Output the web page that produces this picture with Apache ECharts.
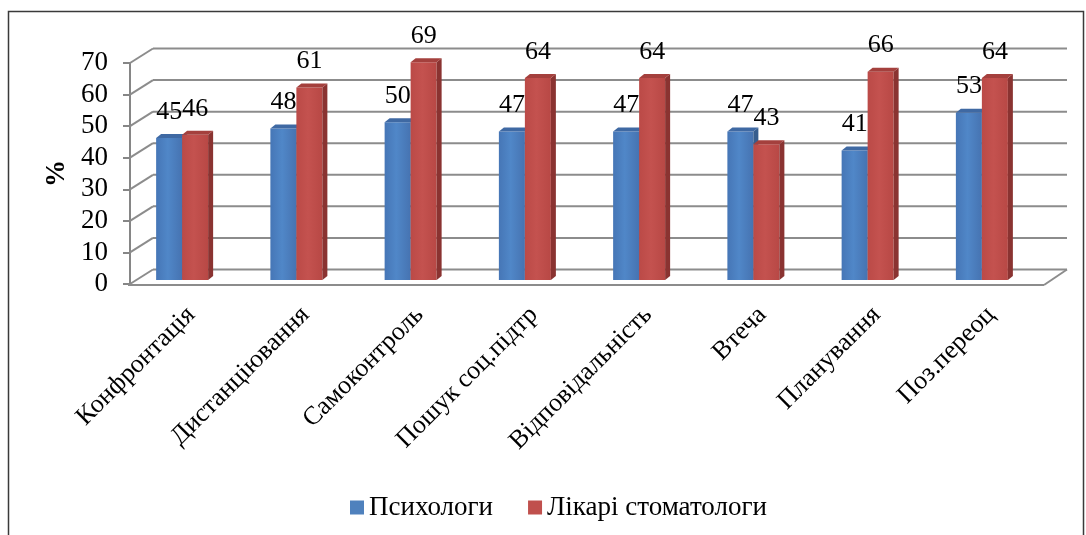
<!DOCTYPE html>
<html>
<head>
<meta charset="utf-8">
<script src="https://cdn.jsdelivr.net/npm/echarts@6/dist/echarts.min.js"></script>
<style>
  html, body { margin: 0; padding: 0; background: #ffffff; }
  #chart { width: 1086px; height: 535px; }
</style>
</head>
<body>
<div id="chart"></div>
<script>
// Coping strategies: share (%) of psychologists vs dentists
const categories = ['Конфронтація', 'Дистанціювання', 'Самоконтроль', 'Пошук соц.підтр',
                    'Відповідальність', 'Втеча', 'Планування', 'Поз.переоц'];
const psychologists = [45, 48, 50, 47, 47, 47, 41, 53];
const dentists = [46, 61, 69, 64, 64, 43, 66, 64];
const yTicks = [0, 10, 20, 30, 40, 50, 60, 70];

const SERIF = "'Liberation Serif', 'Times New Roman', serif";

// pseudo-3D geometry (pixels)
const DEPTH_X = 23, DEPTH_Y = -14.5;      // floor / wall depth
const FRONT_SHIFT = -4;                    // front edge relative to grid
const BAR_SHIFT_X = -9, BAR_SHIFT_Y = -4;  // bar row inside the box
const BAR_W = 26, BAR_DX = 5, BAR_DY = -4; // bar width and bar depth

const WALL = '#8c8c8c';

const chart = echarts.init(document.getElementById('chart'));

function wallItem(params, api) {
  const v = api.value(1);
  const band = api.size([1, 0])[0];
  const first = api.coord([0, v]);
  const last = api.coord([categories.length - 1, v]);
  const xl = first[0] - band / 2 + FRONT_SHIFT;
  const xr = last[0] + band / 2 + FRONT_SHIFT;
  const y = first[1];
  const lineStyle = { stroke: WALL, lineWidth: 2 };
  const children = [
    // back wall gridline
    { type: 'line', shape: { x1: xl + DEPTH_X, y1: y + DEPTH_Y, x2: xr + DEPTH_X, y2: y + DEPTH_Y }, style: lineStyle },
    // side wall diagonal
    { type: 'line', shape: { x1: xl, y1: y, x2: xl + DEPTH_X, y2: y + DEPTH_Y }, style: lineStyle }
  ];
  if (v === 0) {
    children.push(
      { type: 'line', shape: { x1: xl - 2, y1: y + 1, x2: xr, y2: y + 1 }, style: lineStyle },
      { type: 'line', shape: { x1: xr, y1: y + 1, x2: xr + DEPTH_X, y2: y + DEPTH_Y }, style: lineStyle }
    );
  }
  return { type: 'group', children: children };
}

function makeBarRenderer(side, colors) {
  return function (params, api) {
    const i = api.value(0);
    const v = api.value(1);
    const top = api.coord([i, v]);
    const base = api.coord([i, 0]);
    const cx = top[0] + BAR_SHIFT_X + side * BAR_W / 2;
    const xl = cx - BAR_W / 2, xr = cx + BAR_W / 2;
    const yt = top[1] + BAR_SHIFT_Y, yb = base[1] + BAR_SHIFT_Y;
    return {
      type: 'group',
      children: [
        { type: 'polygon',
          shape: { points: [[xl, yt], [xr, yt], [xr, yb], [xl, yb]] },
          style: { fill: new echarts.graphic.LinearGradient(0, 0, 1, 0, [
            { offset: 0, color: colors.front[0] },
            { offset: 0.45, color: colors.front[1] },
            { offset: 1, color: colors.front[2] }
          ]) } },
        { type: 'polygon',
          shape: { points: [[xr, yt], [xr + BAR_DX, yt + BAR_DY], [xr + BAR_DX, yb + BAR_DY], [xr, yb]] },
          style: { fill: colors.side } },
        { type: 'polygon',
          shape: { points: [[xl, yt], [xr, yt], [xr + BAR_DX, yt + BAR_DY], [xl + BAR_DX, yt + BAR_DY]] },
          style: { fill: colors.top } },
        { type: 'text',
          style: { text: String(v), x: cx, y: yt - 26, align: 'center', verticalAlign: 'middle',
                   fontSize: 26, fontFamily: SERIF, fill: '#000000' } }
      ]
    };
  };
}

const BLUE = { front: ['#4676b6', '#5087c8', '#4673b1'], side: '#365d8e', top: '#3f69a3', legend: '#4f81bd' };
const RED = { front: ['#bb4a47', '#c4524f', '#b84845'], side: '#8a3331', top: '#a4403d', legend: '#c0504d' };

chart.setOption({
  animation: false,
  backgroundColor: '#ffffff',
  graphic: [
    { type: 'rect', shape: { x: 8.5, y: 11.5, width: 1075, height: 540 },
      style: { fill: 'none', stroke: '#3a3a3a', lineWidth: 1.5 }, silent: true }
  ],
  grid: { left: 134, right: 38, top: 63, bottom: 251, containLabel: false },
  legend: {
    data: ['Психологи', 'Лікарі стоматологи'],
    left: 345, top: 489,
    itemWidth: 14, itemHeight: 14, itemGap: 35,
    icon: 'rect',
    textStyle: { fontSize: 27, fontFamily: SERIF, color: '#000000' }
  },
  xAxis: {
    type: 'category',
    data: categories,
    axisLine: { show: false },
    axisTick: { show: false },
    splitLine: { show: false },
    axisLabel: { rotate: 45, margin: 27, fontSize: 26, fontFamily: SERIF, color: '#000000', interval: 0 }
  },
  yAxis: {
    type: 'value',
    min: 0, max: 70, interval: 10,
    offset: 4,
    name: '%',
    nameLocation: 'middle',
    nameGap: 58,
    nameRotate: 90,
    nameTextStyle: { fontSize: 27, fontWeight: 'bold', fontFamily: SERIF, color: '#000000' },
    axisLine: { show: true, lineStyle: { color: '#868686', width: 2 } },
    axisTick: { show: true, length: 7, lineStyle: { color: '#868686', width: 2 } },
    splitLine: { show: false },
    axisLabel: { margin: 22, fontSize: 27, fontFamily: SERIF, color: '#000000',
                 formatter: function (val) { return yTicks.indexOf(val) >= 0 ? String(val) : ''; } }
  },
  series: [
    { type: 'custom', name: 'walls', z: 1, silent: true,
      renderItem: wallItem,
      data: yTicks.map(function (t) { return [0, t]; }),
      encode: { x: 0, y: 1 } },
    { type: 'custom', name: 'Психологи', z: 3,
      itemStyle: { color: BLUE.legend },
      renderItem: makeBarRenderer(-1, BLUE),
      data: psychologists.map(function (v, i) { return [i, v]; }),
      encode: { x: 0, y: 1 } },
    { type: 'custom', name: 'Лікарі стоматологи', z: 4,
      itemStyle: { color: RED.legend },
      renderItem: makeBarRenderer(1, RED),
      data: dentists.map(function (v, i) { return [i, v]; }),
      encode: { x: 0, y: 1 } }
  ]
});
</script>
</body>
</html>
